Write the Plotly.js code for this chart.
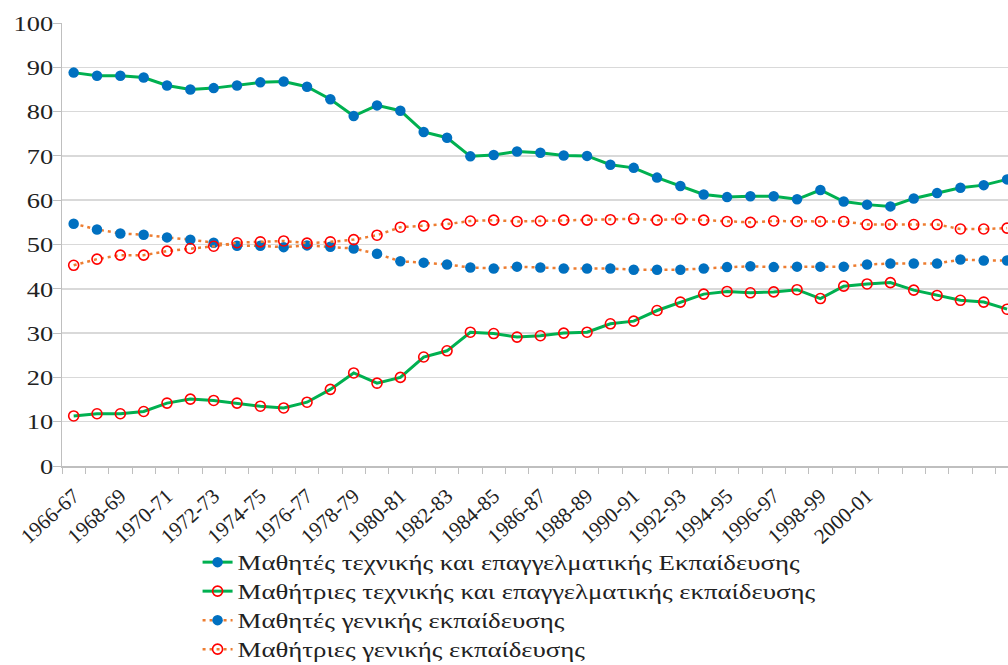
<!DOCTYPE html>
<html>
<head>
<meta charset="utf-8">
<script src="https://cdn.plot.ly/plotly-3.0.1.min.js"></script>
<style>html,body{margin:0;padding:0;background:#fff;}#chart{width:1008px;height:665px;}</style>
</head>
<body>
<div id="chart"></div>
<script>
const years = ["1966-67","1967-68","1968-69","1969-70","1970-71","1971-72","1972-73","1973-74","1974-75","1975-76",
"1976-77","1977-78","1978-79","1979-80","1980-81","1981-82","1982-83","1983-84","1984-85","1985-86",
"1986-87","1987-88","1988-89","1989-90","1990-91","1991-92","1992-93","1993-94","1994-95","1995-96",
"1996-97","1997-98","1998-99","1999-00","2000-01","2001-02","2002-03","2003-04","2004-05","2005-06","2006-07"];
const tickLabels = ["1966-67","","1968-69","","1970-71","","1972-73","","1974-75","",
"1976-77","","1978-79","","1980-81","","1982-83","","1984-85","",
"1986-87","","1988-89","","1990-91","","1992-93","","1994-95","",
"1996-97","","1998-99","","2000-01","","","","","",""];

const boysTech = [88.8,88.1,88.1,87.7,85.9,85.0,85.3,85.9,86.6,86.8,
85.6,82.8,79.0,81.4,80.2,75.4,74.1,69.9,70.2,71.0,
70.7,70.1,70.0,68.0,67.3,65.1,63.2,61.3,60.7,60.9,
60.9,60.2,62.3,59.7,59.0,58.6,60.4,61.6,62.8,63.4,64.7];
const girlsTech = [11.3,11.8,11.8,12.3,14.2,15.1,14.8,14.2,13.5,13.1,
14.4,17.3,21.0,18.7,20.0,24.6,26.0,30.2,29.9,29.1,
29.4,30.0,30.2,32.1,32.7,35.1,37.0,38.8,39.4,39.1,
39.3,39.8,37.8,40.6,41.1,41.4,39.7,38.5,37.4,37.0,35.4];
const boysGen = [54.7,53.4,52.5,52.2,51.6,51.1,50.4,49.7,49.7,49.4,
49.8,49.5,49.1,47.9,46.2,45.9,45.5,44.8,44.6,45.0,
44.8,44.6,44.6,44.6,44.3,44.3,44.3,44.6,44.9,45.1,
44.9,45.0,45.0,45.0,45.5,45.7,45.7,45.7,46.6,46.4,46.4];
const girlsGen = [45.3,46.7,47.6,47.6,48.5,49.1,49.6,50.4,50.6,50.8,
50.3,50.6,51.1,52.1,53.9,54.2,54.6,55.3,55.5,55.2,
55.3,55.5,55.5,55.6,55.8,55.5,55.8,55.5,55.2,55.0,
55.3,55.2,55.2,55.2,54.5,54.5,54.5,54.5,53.5,53.5,53.7];

const names = ["Μαθητές τεχνικής και επαγγελματικής Εκπαίδευσης",
"Μαθήτριες τεχνικής και επαγγελματικής εκπαίδευσης",
"Μαθητές γενικής εκπαίδευσης",
"Μαθήτριες γενικής εκπαίδευσης"];

const FONT = "Liberation Serif, Times New Roman, serif";
const filled = {symbol:"circle", size:10.5, color:"#0070C0", line:{width:0}};
const open = {symbol:"circle-open", size:10, color:"#FF0000", line:{width:1.6, color:"#FF0000"}};

const traces = [
  {x:years, y:boysTech, name:names[0], type:"scatter", mode:"lines+markers",
   line:{color:"#00B050", width:3}, marker:filled},
  {x:years, y:girlsTech, name:names[1], type:"scatter", mode:"lines+markers",
   line:{color:"#00B050", width:3}, marker:open},
  {x:years, y:boysGen, name:names[2], type:"scatter", mode:"lines+markers",
   line:{color:"#ED7D31", width:2.5, dash:"3px,4px"}, marker:filled},
  {x:years, y:girlsGen, name:names[3], type:"scatter", mode:"lines+markers",
   line:{color:"#ED7D31", width:2.5, dash:"3px,4px"}, marker:open}
];

const layout = {
  width:1008, height:665,
  margin:{l:62, r:0, t:23, b:199, pad:0, autoexpand:false},
  paper_bgcolor:"#fff", plot_bgcolor:"#fff",
  font:{family:FONT, size:22, color:"#222"},
  showlegend:true,
  legend:{xref:"container", yref:"container", x:0.196, xanchor:"left", y:0.184, yanchor:"top",
          orientation:"v", font:{family:FONT, size:20, color:"#222"}, bgcolor:"rgba(0,0,0,0)", tracegroupgap:0},
  xaxis:{type:"category", range:[-0.5, 40.04], tickmode:"array", tickvals:years, ticktext:tickLabels,
         tickson:"boundaries", ticks:"outside", ticklen:6, tickcolor:"#BFBFBF", tickwidth:1,
         tickangle:-42, tickfont:{family:FONT, size:21, color:"#222"}, automargin:false, ticklabelstandoff:8,
         showline:true, linecolor:"#BFBFBF", linewidth:1.5, showgrid:false, zeroline:false, fixedrange:true},
  yaxis:{range:[0,100], dtick:10, tick0:0, ticks:"outside", ticklen:8, tickcolor:"#BFBFBF", automargin:false,
         showline:true, linecolor:"#BFBFBF", linewidth:1.5, showgrid:true, gridcolor:"#D9D9D9", gridwidth:1.5,
         ticklabelstandoff:-5,
         zeroline:false, tickfont:{family:FONT, size:22, color:"#222"}, fixedrange:true}
};

Plotly.newPlot("chart", traces, layout, {displayModeBar:false, staticPlot:true}).then(function(){
  // reference text is horizontally widened; stretch glyphs to match
  var stretch = function(sel, f){
    document.querySelectorAll(sel).forEach(function(el){
      var w = el.getComputedTextLength();
      if(w > 0){ el.setAttribute("textLength", (w*f).toFixed(1)); el.setAttribute("lengthAdjust","spacingAndGlyphs"); }
    });
  };
  var first = document.querySelector(".legendtext");
  var f = first ? 562 / first.getComputedTextLength() : 1.2;
  stretch(".legendtext", f);
  stretch("g.ytick text", 1.2);
  document.querySelectorAll(".legend [clip-path], .legend").forEach(function(e){ e.removeAttribute("clip-path"); });
  document.querySelectorAll(".legend .scrollbar").forEach(function(e){ e.style.display = "none"; });
});
</script>
</body>
</html>
